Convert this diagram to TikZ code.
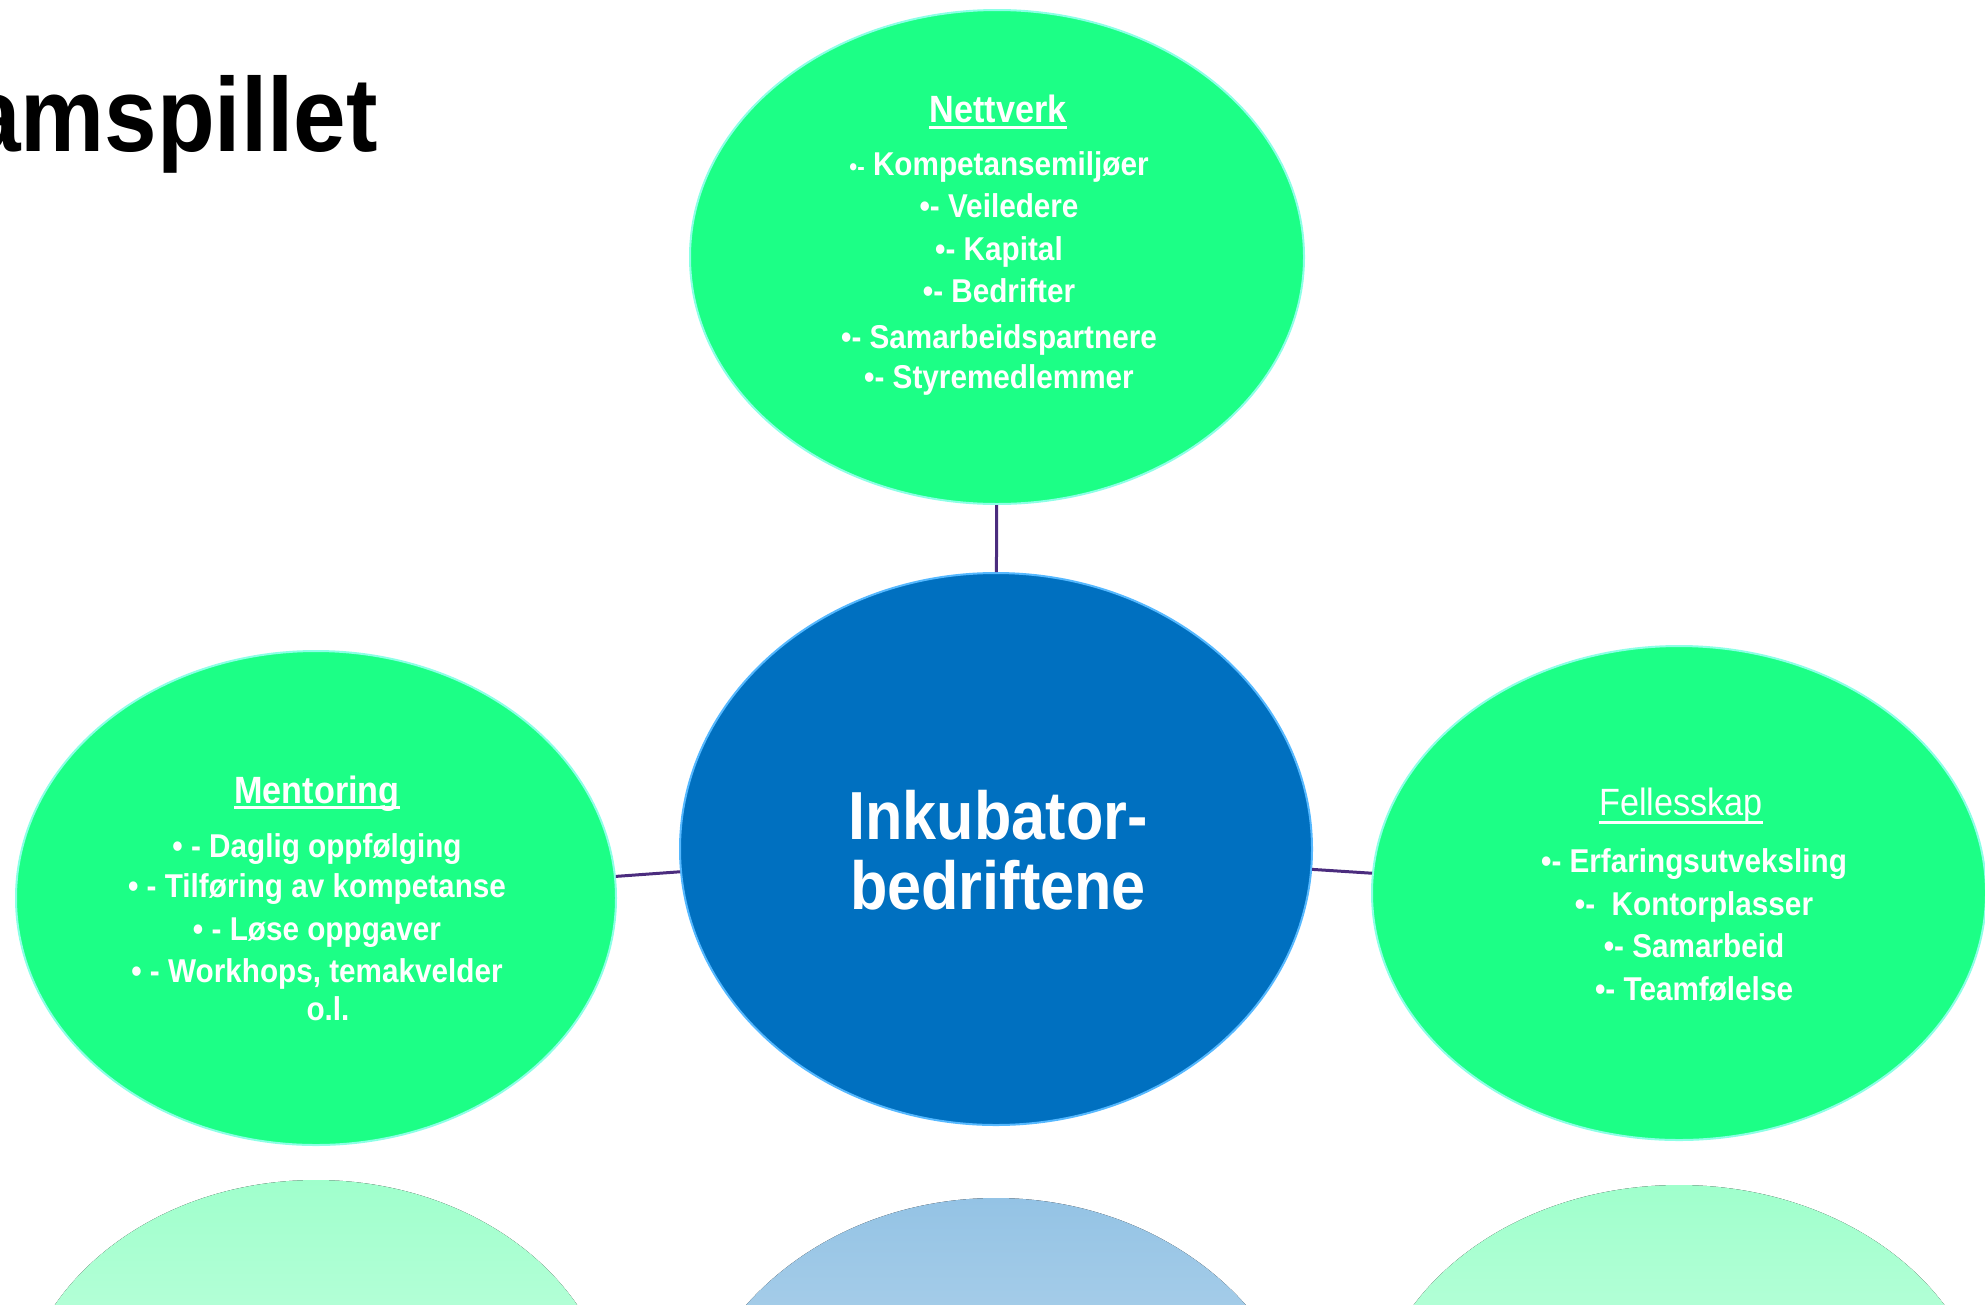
\documentclass[tikz,border=0pt]{standalone}
\usepackage{fontspec}
\setmainfont{Liberation Sans}[FakeStretch=0.9]
\usetikzlibrary{shapes.geometric}

\definecolor{bubblegreen}{HTML}{1CFF86}
\definecolor{hubblue}{HTML}{0070C0}
\definecolor{rimgreen}{HTML}{8CFFE6}
\definecolor{rimblue}{HTML}{55B8FF}
\definecolor{linkpurple}{HTML}{4B2C7E}

\newcommand\smallbullet{{\fontsize{25}{25}\selectfont•-}}

\begin{document}
\begin{tikzpicture}[x=1pt, y=-1pt,
		bubble/.style={ellipse, draw=rimgreen, line width=2pt, fill=bubblegreen, inner sep=0pt, minimum width=614pt, minimum height=494pt},
		hub/.style={ellipse, draw=rimblue, line width=2pt, fill=hubblue, inner sep=0pt, minimum width=632pt, minimum height=552pt},
		link/.style={draw=linkpurple, line width=3pt},
		head/.style={text=white, font=\bfseries\fontsize{38}{38}\selectfont, inner sep=0pt, anchor=base},
		item/.style={text=white, font=\bfseries\fontsize{33}{33}\selectfont, inner sep=0pt, anchor=base},
		hubtext/.style={text=white, font=\bfseries\fontsize{68}{68}\selectfont, inner sep=0pt, anchor=base},
		uline/.style={white, line width=3pt}]

		\useasboundingbox (0, 0) rectangle (1985, 1304);

		% reflections
		\fill[top color=bubblegreen!42!white, bottom color=bubblegreen!10!white] (316, 1426) ellipse [x radius=300, y radius=246];
		\fill[top color=hubblue!42!white, bottom color=hubblue!10!white] (996, 1474) ellipse [x radius=316, y radius=276];
		\fill[top color=bubblegreen!42!white, bottom color=bubblegreen!10!white] (1679, 1431) ellipse [x radius=309, y radius=246];

		\node[bubble] (net) at (997, 257) {};
		\node[hub] (inkub) at (996, 849) {};
		\node[bubble, minimum width=600pt] (mentor) at (316, 898) {};
		\node[bubble] (felles) at (1679, 893) {};

		\draw[link] (net) -- (inkub);
		\draw[link] (mentor) -- (inkub);
		\draw[link] (inkub) -- (felles);

		\node[font=\bfseries\fontsize{105}{105}\selectfont, inner sep=0pt, anchor=base east] (title) at (378, 151) {amspillet};

		\node[hubtext] (inkubA) at (998, 839) {Inkubator-};
		\node[hubtext] (inkubB) at (998, 909) {bedriftene};

		% Nettverk
		\node[head] (netHead) at (998, 122) {Nettverk};
		\draw[uline] ([yshift=-5pt]netHead.base west) -- ([yshift=-5pt]netHead.base east);
		\foreach \y/\t [count=\i] in {175/{\smallbullet{} Kompetansemiljøer}, 217/{•- Veiledere}, 260/{•- Kapital}, 302/{•- Bedrifter}, 348/{•- Samarbeidspartnere}, 388/{•- Styremedlemmer}}
			\node[item] (net\i) at (999, \y) {\t};

		% Mentoring
		\node[head] (mentorHead) at (317, 803) {Mentoring};
		\draw[uline] ([yshift=-4pt]mentorHead.base west) -- ([yshift=-4pt]mentorHead.base east);
		\foreach \y/\t [count=\i] in {857/{• - Daglig oppfølging}, 897/{• - Tilføring av kompetanse}, 940/{• - Løse oppgaver}, 982/{• - Workhops, temakvelder}}
			\node[item] (mentor\i) at (317, \y) {\t};
		\node[item] (mentor5) at (328, 1020) {o.l.};

		% Fellesskap
		\node[head, font=\fontsize{38}{38}\selectfont] (fellesHead) at (1681, 815) {Fellesskap};
		\draw[uline] ([yshift=-7pt]fellesHead.base west) -- ([yshift=-7pt]fellesHead.base east);
		\foreach \y/\t [count=\i] in {872/{•- Erfaringsutveksling}, 915/{•-~~Kontorplasser}, 957/{•- Samarbeid}, 1000/{•- Teamfølelse}}
			\node[item] (felles\i) at (1694, \y) {\t};

\end{tikzpicture}
\end{document}
